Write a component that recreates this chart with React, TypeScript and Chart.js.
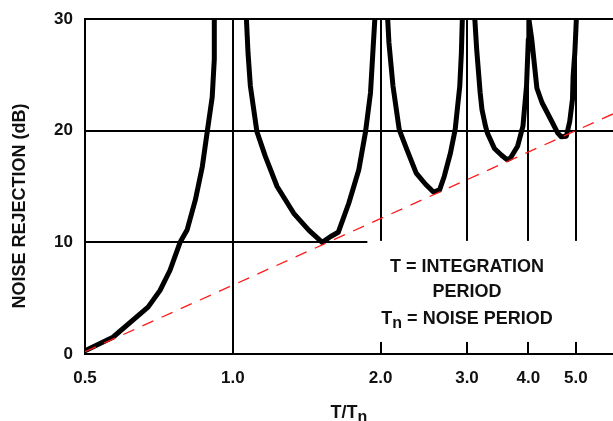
import React, { useEffect, useRef } from 'react';
import { Chart, registerables } from 'chart.js';

Chart.register(...registerables);

// ---- data ----
const xTickValues = [0.5, 1, 2, 3, 4, 5];
const yTickValues = [0, 10, 20, 30];

const lobe1T = [0.5, 0.57, 0.672, 0.711, 0.745, 0.781, 0.807, 0.839, 0.867, 0.887, 0.908, 0.917, 0.917];
const lobe1Db = [0.3, 1.5, 4.2, 5.7, 7.5, 10.0, 11.1, 13.8, 16.8, 19.9, 23.0, 26.4, 30];

const lobe2T = [1.066, 1.074, 1.086, 1.12, 1.165, 1.231, 1.331, 1.428, 1.521, 1.58, 1.64, 1.723, 1.806, 1.864, 1.908, 1.929, 1.947];
const lobe2Db = [30, 27.0, 24.0, 19.9, 17.7, 15.0, 12.6, 11.1, 10.0, 10.5, 10.9, 13.5, 16.5, 19.9, 23.4, 27.0, 30];

const lobe3T = [2.068, 2.08, 2.12, 2.183, 2.263, 2.364, 2.47, 2.563, 2.638, 2.696, 2.776, 2.838, 2.9, 2.922, 2.935];
const lobe3Db = [30, 27.9, 24.0, 20.1, 18.3, 16.2, 15.2, 14.5, 14.7, 15.9, 18.0, 20.1, 24.0, 27.0, 30];

const lobe45T = [3.112, 3.139, 3.191, 3.218, 3.272, 3.3, 3.412, 3.528, 3.618, 3.678, 3.803, 3.9, 3.966, 4.0, 4.01, 4.064, 4.164, 4.266, 4.444, 4.589, 4.665, 4.78, 4.856, 4.92, 4.935, 4.975, 5.0, 5.01];
const lobe45Db = [30, 27.3, 23.4, 21.9, 20.4, 19.8, 18.4, 17.8, 17.4, 17.55, 18.6, 20.4, 24.0, 28.2, 30, 28.2, 23.8, 22.5, 21.0, 19.8, 19.46, 19.5, 20.8, 22.8, 24.9, 27.0, 29.1, 30];

// 6 dB/octave reference line (dashed red)
const refT = [0.5, 5.95];
const refDb = [0.2, 21.5];

const xMin = 0.5;
const xMax = 5.95;
const yMin = 0;
const yMax = 30;

// annotation text
const noteLine1 = 'T = INTEGRATION';
const noteLine2 = 'PERIOD';
const noteLine3Main = 'T';
const noteLine3Sub = 'n';
const noteLine3Rest = ' = NOISE PERIOD';
const xTitleMain = 'T/T';
const xTitleSub = 'n';
const yTitle = 'NOISE REJECTION (dB)';

// annotation placement (data coordinates)
const noteCenterT = 3.0;
const noteBaselinesDb = [7.35, 5.1, 2.7];
const boxLeftT = 1.88;
const boxTopDb = 10.13;
const boxBottomDb = 1.08;

const FONT = '"Liberation Sans", Arial, Helvetica, sans-serif';
const TEXT = '#111';

const pts = (t: number[], d: number[]) => t.map((v, i) => ({ x: v, y: d[i] }));

function drawParts(ctx: CanvasRenderingContext2D, parts: { text: string; sub?: boolean }[], cx: number, baseline: number, size: number, subSize: number, subDrop: number) {
  const widths = parts.map((p) => {
    ctx.font = `bold ${p.sub ? subSize : size}px ${FONT}`;
    return ctx.measureText(p.text).width;
  });
  const total = widths.reduce((a, b) => a + b, 0);
  let x = cx - total / 2;
  ctx.textAlign = 'left';
  ctx.textBaseline = 'alphabetic';
  parts.forEach((p, i) => {
    ctx.font = `bold ${p.sub ? subSize : size}px ${FONT}`;
    ctx.fillText(p.text, x, baseline + (p.sub ? subDrop : 0));
    x += widths[i];
  });
}

export default function App() {
  const ref = useRef<HTMLCanvasElement>(null);

  useEffect(() => {
    const canvas = ref.current!;
    const overlay = {
      id: 'overlay',
      beforeDatasetsDraw(chart: any) {
        const { ctx, chartArea, scales } = chart;
        const x = scales.x;
        const y = scales.y;
        const l = x.getPixelForValue(boxLeftT);
        const t = y.getPixelForValue(boxTopDb);
        const b = y.getPixelForValue(boxBottomDb);
        ctx.save();
        ctx.fillStyle = '#ffffff';
        ctx.fillRect(l, t, chartArea.right - l + 4, b - t);
        ctx.restore();
      },
      afterDraw(chart: any) {
        const { ctx, chartArea, scales } = chart;
        const x = scales.x;
        const y = scales.y;
        ctx.save();
        ctx.fillStyle = TEXT;
        const cx = x.getPixelForValue(noteCenterT);
        drawParts(ctx, [{ text: noteLine1 }], cx, y.getPixelForValue(noteBaselinesDb[0]), 18, 16, 4);
        drawParts(ctx, [{ text: noteLine2 }], cx, y.getPixelForValue(noteBaselinesDb[1]), 18, 16, 4);
        drawParts(
          ctx,
          [{ text: noteLine3Main }, { text: noteLine3Sub, sub: true }, { text: noteLine3Rest }],
          cx,
          y.getPixelForValue(noteBaselinesDb[2]),
          18,
          16,
          4
        );
        // x title
        const xc = (chartArea.left + chartArea.right) / 2;
        drawParts(ctx, [{ text: xTitleMain }, { text: xTitleSub, sub: true }], xc, chartArea.bottom + 64, 18, 16, 4);
        // y title
        ctx.translate(chartArea.left - 60, (chartArea.top + chartArea.bottom) / 2 + 19.5);
        ctx.rotate(-Math.PI / 2);
        ctx.font = `bold 18px ${FONT}`;
        ctx.textAlign = 'center';
        ctx.textBaseline = 'alphabetic';
        ctx.fillText(yTitle, 0, 0);
        ctx.restore();
      },
    };

    const chart = new Chart(canvas, {
      type: 'line',
      data: {
        datasets: [
          {
            data: pts(refT, refDb),
            borderColor: '#ff1a1a',
            borderWidth: 1.3,
            borderDash: [12, 9],
            pointRadius: 0,
            tension: 0,
          },
          { data: pts(lobe1T, lobe1Db), borderColor: '#000', borderWidth: 5, pointRadius: 0, tension: 0, borderJoinStyle: 'round' },
          { data: pts(lobe2T, lobe2Db), borderColor: '#000', borderWidth: 5, pointRadius: 0, tension: 0, borderJoinStyle: 'round' },
          { data: pts(lobe3T, lobe3Db), borderColor: '#000', borderWidth: 5, pointRadius: 0, tension: 0, borderJoinStyle: 'round' },
          { data: pts(lobe45T, lobe45Db), borderColor: '#000', borderWidth: 5, pointRadius: 0, tension: 0, borderJoinStyle: 'round' },
        ],
      },
      options: {
        animation: false,
        responsive: true,
        maintainAspectRatio: false,
        layout: { padding: { top: 19, left: 0, right: 0, bottom: 0 } },
        plugins: { legend: { display: false }, tooltip: { enabled: false } },
        scales: {
          x: {
            type: 'logarithmic',
            min: xMin,
            max: xMax,
            afterBuildTicks: (s: any) => {
              s.ticks = xTickValues.map((v) => ({ value: v }));
            },
            afterFit: (s: any) => {
              s.height = 67;
              s.paddingRight = 0;
            },
            grid: { color: '#000', lineWidth: 2, drawTicks: false },
            border: { color: '#000', width: 2 },
            ticks: {
              autoSkip: false,
              maxRotation: 0,
              padding: 14,
              color: TEXT,
              font: { family: FONT, size: 17, weight: 'bold' },
              callback: (v: any) => Number(v).toFixed(1),
            },
          },
          y: {
            type: 'linear',
            min: yMin,
            max: yMax,
            afterBuildTicks: (s: any) => {
              s.ticks = yTickValues.map((v) => ({ value: v }));
            },
            afterFit: (s: any) => {
              s.width = 85;
              s.paddingTop = 0;
              s.paddingBottom = 0;
            },
            grid: { color: '#000', lineWidth: 2, drawTicks: false },
            border: { color: '#000', width: 2 },
            ticks: {
              padding: 12,
              color: TEXT,
              font: { family: FONT, size: 17, weight: 'bold' },
              callback: (v: any) => String(v),
            },
          },
        },
      },
      plugins: [overlay],
    } as any);

    return () => chart.destroy();
  }, []);

  return (
    <div style={{ position: 'absolute', left: 0, top: 0, width: 613, height: 421 }}>
      <canvas ref={ref} />
    </div>
  );
}
